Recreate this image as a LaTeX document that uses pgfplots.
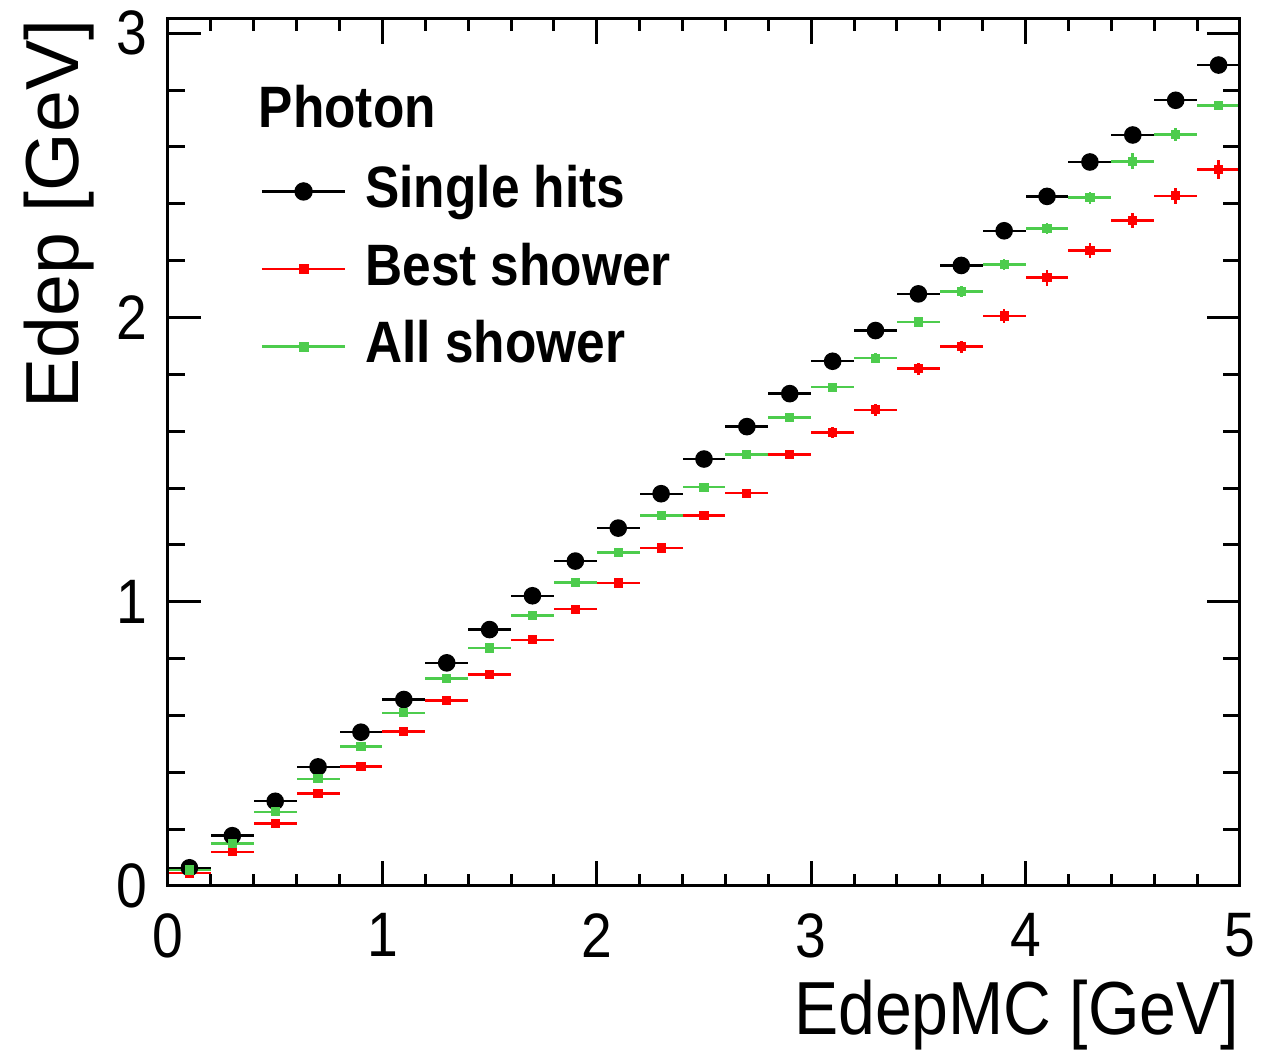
\documentclass[border=0pt]{standalone}
\usepackage{fontspec}
\setmainfont[FakeStretch=0.88]{Liberation Sans}
\newfontfamily\plainfont{Liberation Sans}
\usepackage{pgfplots}
\usepackage{pgfplotstable}
\pgfplotsset{compat=1.18}
\definecolor{rootgreen}{RGB}{77,204,77}
\definecolor{rootred}{RGB}{255,0,0}

\pgfplotstableread{
x y ey
0.1 0.064 0.004
0.3 0.177 0.005
0.5 0.298 0.006
0.7 0.419 0.007
0.9 0.541 0.008
1.1 0.656 0.009
1.3 0.785 0.010
1.5 0.902 0.010
1.7 1.021 0.011
1.9 1.143 0.012
2.1 1.259 0.012
2.3 1.380 0.013
2.5 1.502 0.014
2.7 1.616 0.015
2.9 1.732 0.016
3.1 1.846 0.017
3.3 1.954 0.018
3.5 2.083 0.019
3.7 2.183 0.020
3.9 2.305 0.021
4.1 2.426 0.022
4.3 2.547 0.023
4.5 2.642 0.024
4.7 2.764 0.025
4.9 2.888 0.026
}\singlehits

\pgfplotstableread{
x y ey
0.1 0.046 0.003
0.3 0.120 0.004
0.5 0.220 0.005
0.7 0.325 0.006
0.9 0.421 0.007
1.1 0.544 0.008
1.3 0.652 0.009
1.5 0.743 0.010
1.7 0.866 0.010
1.9 0.974 0.011
2.1 1.066 0.012
2.3 1.189 0.013
2.5 1.303 0.014
2.7 1.382 0.015
2.9 1.519 0.016
3.1 1.595 0.018
3.3 1.675 0.020
3.5 1.820 0.021
3.7 1.897 0.021
3.9 2.005 0.025
4.1 2.140 0.028
4.3 2.235 0.027
4.5 2.341 0.025
4.7 2.428 0.028
4.9 2.521 0.034
}\bestshower

\pgfplotstableread{
x y ey
0.1 0.056 0.003
0.3 0.149 0.004
0.5 0.261 0.005
0.7 0.377 0.006
0.9 0.491 0.007
1.1 0.609 0.008
1.3 0.729 0.009
1.5 0.837 0.010
1.7 0.951 0.010
1.9 1.068 0.011
2.1 1.173 0.012
2.3 1.303 0.012
2.5 1.403 0.013
2.7 1.519 0.014
2.9 1.649 0.015
3.1 1.755 0.016
3.3 1.857 0.017
3.5 1.984 0.018
3.7 2.091 0.019
3.9 2.186 0.020
4.1 2.313 0.021
4.3 2.421 0.022
4.5 2.549 0.028
4.7 2.643 0.023
4.9 2.745 0.012
}\allshower

\begin{document}
\begin{tikzpicture}
\begin{axis}[
  scale only axis, width=268pt, height=216.75pt,
  xmin=0, xmax=5, ymin=0, ymax=3.05,
  xtick={0,1,2,3,4,5}, ytick={0,1,2,3},
  minor y tick num=4,
  major x tick style={draw=none}, minor x tick style={draw=none},
  tick align=inside, xtick pos=both, ytick pos=both,
  major tick length=8.25pt, minor tick length=4.2pt,
  axis line style={line width=0.75pt},
  every tick/.style={line width=0.75pt, black},
  /pgf/number format/assume math mode=true,
  ticklabel style={font=\fontsize{15.7}{18}\selectfont},
  xticklabel style={inner sep=0pt, anchor=north, yshift=-6.6pt},
  yticklabel style={inner sep=0pt, anchor=east, xshift=-5pt},
  xticklabel pos=lower, yticklabel pos=left,
  xlabel={EdepMC [GeV]}, ylabel={Edep [GeV]},
  every axis x label/.style={at={(axis description cs:1,-0.108)}, anchor=north east, inner sep=0pt, font=\fontsize{18.8}{22}\selectfont},
  every axis y label/.style={at={(axis description cs:-0.068,1)}, anchor=south east, rotate=90, inner sep=0pt, font=\plainfont\fontsize{18.8}{22}\selectfont},
  legend style={draw=none, fill=none, at={(axis description cs:0.0858,0.832)}, anchor=north west, inner sep=0pt, row sep=8.9pt, column sep=4.75pt,
    font=\bfseries\fontsize{14.6}{17}\selectfont, nodes={inner sep=0pt, text height=10.5pt, text depth=0pt}},
  legend cell align=left,
  legend image code/.code={\draw[mark repeat=2, mark phase=2, #1] plot coordinates {(0pt,-1.25pt) (10.4pt,-1.25pt) (20.8pt,-1.25pt)};},
  error bars/error mark=none,
]
\addplot[only marks, mark=*, black, mark size=2pt, forget plot,
  error bars/.cd, x dir=both, x fixed=0.1, y dir=both, y explicit,
  error bar style={line width=0.6pt, black}]
  table[x=x, y=y, y error=ey] {\singlehits};
\addplot[only marks, mark=square*, rootred, mark size=0.95pt, forget plot,
  error bars/.cd, x dir=both, x fixed=0.1, y dir=both, y explicit,
  error bar style={line width=0.65pt, rootred}]
  table[x=x, y=y, y error=ey] {\bestshower};
\addplot[only marks, mark=square*, rootgreen, mark size=0.95pt, forget plot,
  error bars/.cd, x dir=both, x fixed=0.1, y dir=both, y explicit,
  error bar style={line width=0.65pt, rootgreen}]
  table[x=x, y=y, y error=ey] {\allshower};
\addlegendimage{black, line width=0.6pt, mark=*, mark size=2pt}
\addlegendentry{Single hits}
\addlegendimage{rootred, line width=0.6pt, mark=square*, mark size=0.95pt}
\addlegendentry{Best shower}
\addlegendimage{rootgreen, line width=0.6pt, mark=square*, mark size=0.95pt}
\addlegendentry{All shower}
\node[anchor=base west, inner sep=0pt, font=\bfseries\fontsize{14.6}{17}\selectfont] at (axis description cs:0.0840,0.8745) {Photon};
\end{axis}
\begin{axis}[
  scale only axis, width=268pt, height=216.75pt,
  xmin=0, xmax=5, ymin=0, ymax=3.05,
  xtick={0,1,2,3,4,5}, ytick=\empty,
  minor x tick num=4, xticklabels={},
  tick align=inside, xtick pos=both,
  major tick length=6.25pt, minor tick length=3.1pt,
  axis line style={line width=0.75pt},
  every tick/.style={line width=0.75pt, black},
]
\end{axis}
\pgfresetboundingbox
\path ([xshift=-42pt, yshift=-41.625pt]current axis.south west) rectangle ([xshift=9pt, yshift=4.75pt]current axis.north east);
\end{tikzpicture}
\end{document}
